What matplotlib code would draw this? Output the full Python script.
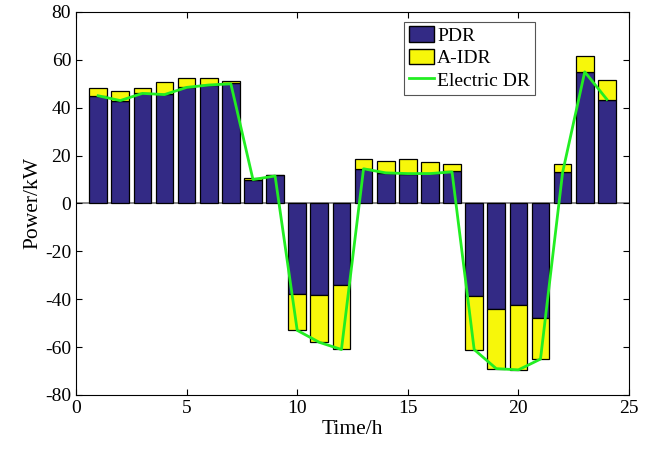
import numpy as np
import matplotlib.pyplot as plt
from matplotlib.patches import Patch
from matplotlib.lines import Line2D

plt.rcParams['font.family'] = ['Liberation Serif', 'DejaVu Serif']
plt.rcParams['axes.unicode_minus'] = False

# Daten
hours = np.arange(1, 25)
pdr = [45.1, 42.9, 46.1, 45.6, 48.6, 49.4, 50.3, 10.0, 11.8, -38.0, -38.2, -33.9,
       14.6, 12.8, 12.5, 12.8, 13.4, -38.5, -43.9, -42.5, -48.0, 13.3, 54.9, 43.3]
aidr = [3.1, 4.2, 2.0, 5.0, 3.8, 3.0, 0.7, 0.8, 0.0, -14.9, -19.8, -26.9,
        3.9, 4.9, 6.2, 4.7, 3.0, -22.9, -25.1, -27.1, -17.0, 3.2, 6.9, 8.1]
electric_dr = [45.0, 43.0, 46.0, 45.5, 48.5, 49.5, 50.0, 10.0, 11.5, -53.0, -58.0, -61.0,
               14.5, 12.8, 12.5, 12.5, 13.2, -61.0, -69.0, -69.5, -65.0, 13.0, 55.0, 43.5]

navy = '#332a85'
yellow = '#f7f70a'
green = '#22ee22'

fig = plt.figure(figsize=(6.56, 4.58), dpi=100)
ax = fig.add_axes([0.1159, 0.1376, 0.8429, 0.8362])

ax.bar(hours, pdr, width=0.8, color=navy, edgecolor='black', linewidth=0.9, zorder=2)
ax.bar(hours, aidr, width=0.8, bottom=pdr, color=yellow, edgecolor='black', linewidth=0.9, zorder=2)
ax.axhline(0, color='#777777', linewidth=1.2, zorder=1)
ax.plot(hours, electric_dr, color=green, linewidth=2, zorder=3)

ax.set_xlim(0, 25)
ax.set_ylim(-80, 80)
ax.set_xticks(np.arange(0, 26, 5))
ax.set_yticks(np.arange(-80, 81, 20))
ax.tick_params(direction='in', labelsize=14, top=True, right=True, length=4.5)
ax.set_xlabel('Time/h', fontsize=15.5, labelpad=2)
ax.set_ylabel('Power/kW', fontsize=15.5, labelpad=2)

handles = [Patch(facecolor=navy, edgecolor='black', label='PDR'),
           Patch(facecolor=yellow, edgecolor='black', label='A-IDR'),
           Line2D([0], [0], color=green, linewidth=2, label='Electric DR')]
leg = ax.legend(handles=handles, loc='upper right', bbox_to_anchor=(0.83, 0.975),
                fontsize=14, fancybox=False, edgecolor='#555555', framealpha=1,
                borderpad=0.25, labelspacing=0.2, handlelength=1.3, handleheight=0.85,
                handletextpad=0.15, borderaxespad=0)
leg.get_frame().set_linewidth(0.8)

fig.savefig('out.png', dpi=100)
